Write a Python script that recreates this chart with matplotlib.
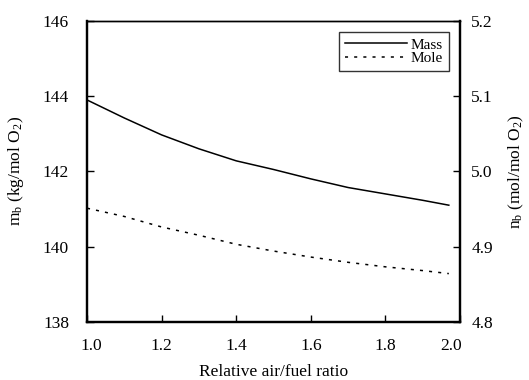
import matplotlib
matplotlib.use("Agg")
import matplotlib.pyplot as plt
from matplotlib.transforms import ScaledTranslation

plt.rcParams["font.family"] = ["Liberation Serif", "DejaVu Serif"]
plt.rcParams["mathtext.fontset"] = "custom"
plt.rcParams["mathtext.rm"] = "Liberation Serif"
plt.rcParams["mathtext.it"] = "Liberation Serif:italic"

# relative air/fuel ratio
lam = [1.0, 1.1, 1.2, 1.3, 1.4, 1.5, 1.6, 1.7, 1.8, 1.9, 1.97]
# mass-based (kg/mol O2), left axis
mass = [143.9, 143.42, 142.97, 142.6, 142.28, 142.05, 141.8, 141.57, 141.4, 141.23, 141.1]
# mole-based (mol/mol O2), right axis
mole = [4.951, 4.940, 4.926, 4.915, 4.903, 4.894, 4.886, 4.879, 4.873, 4.868, 4.864]

xticks = [1.0, 1.2, 1.4, 1.6, 1.8, 2.0]
left_ticks = [138, 140, 142, 144, 146]
right_ticks = [4.8, 4.9, 5.0, 5.1, 5.2]

fig = plt.figure(figsize=(5.29, 3.8), dpi=100)
ax = fig.add_axes([0.1645, 0.1534, 0.7051, 0.7913])
ax2 = ax.twinx()

l1, = ax.plot(lam, mass, color="black", lw=1.1, label="Mass")
l2, = ax2.plot(lam, mole, color="black", lw=1.1, linestyle=(0, (2, 4)), label="Mole")

ax.set_xlim(1.0, 2.0)
ax.set_ylim(138, 146)
ax2.set_ylim(4.8, 5.2)
ax.set_xticks(xticks)
ax.set_yticks(left_ticks)
ax2.set_yticks(right_ticks)
ax.set_xticklabels([f"{v:.1f}" for v in xticks])
ax2.set_yticklabels([f"{v:.1f}" for v in right_ticks])

ax.tick_params(axis="both", direction="in", length=5, width=1, labelsize=12.5)
ax.tick_params(axis="x", top=False, pad=12)
ax.tick_params(axis="y", pad=13)
ax2.tick_params(axis="y", direction="in", length=5, width=1, labelsize=12.5, pad=8)

# first and last x labels sit a little inside the frame
xl = ax.get_xticklabels()
xl[0].set_transform(xl[0].get_transform() + ScaledTranslation(4 / 100, 0, fig.dpi_scale_trans))
xl[-1].set_transform(xl[-1].get_transform() + ScaledTranslation(-9 / 100, 0, fig.dpi_scale_trans))

for a in (ax, ax2):
    a.spines["left"].set_linewidth(1.6)
    a.spines["bottom"].set_linewidth(1.6)
    a.spines["right"].set_linewidth(1.6)
    a.spines["top"].set_linewidth(1.0)

ax.set_xlabel("Relative air/fuel ratio", fontsize=12.5, labelpad=7)
ax.set_ylabel(r"m$_{\rm b}$ (kg/mol O$_{\rm 2}$)", fontsize=12.5, labelpad=12)
ax2.set_ylabel(r"n$_{\rm b}$ (mol/mol O$_{\rm 2}$)", fontsize=12.5, labelpad=10)

leg = ax.legend(handles=[l1, l2], loc="upper right", bbox_to_anchor=(0.9697, 0.9644),
                fontsize=11, frameon=True, fancybox=False, handlelength=4.1,
                handletextpad=0.2, borderpad=0.4, labelspacing=0.0,
                borderaxespad=0)
leg.get_frame().set_edgecolor("black")
leg.get_frame().set_linewidth(1.0)

fig.savefig("out.png", dpi=100)
